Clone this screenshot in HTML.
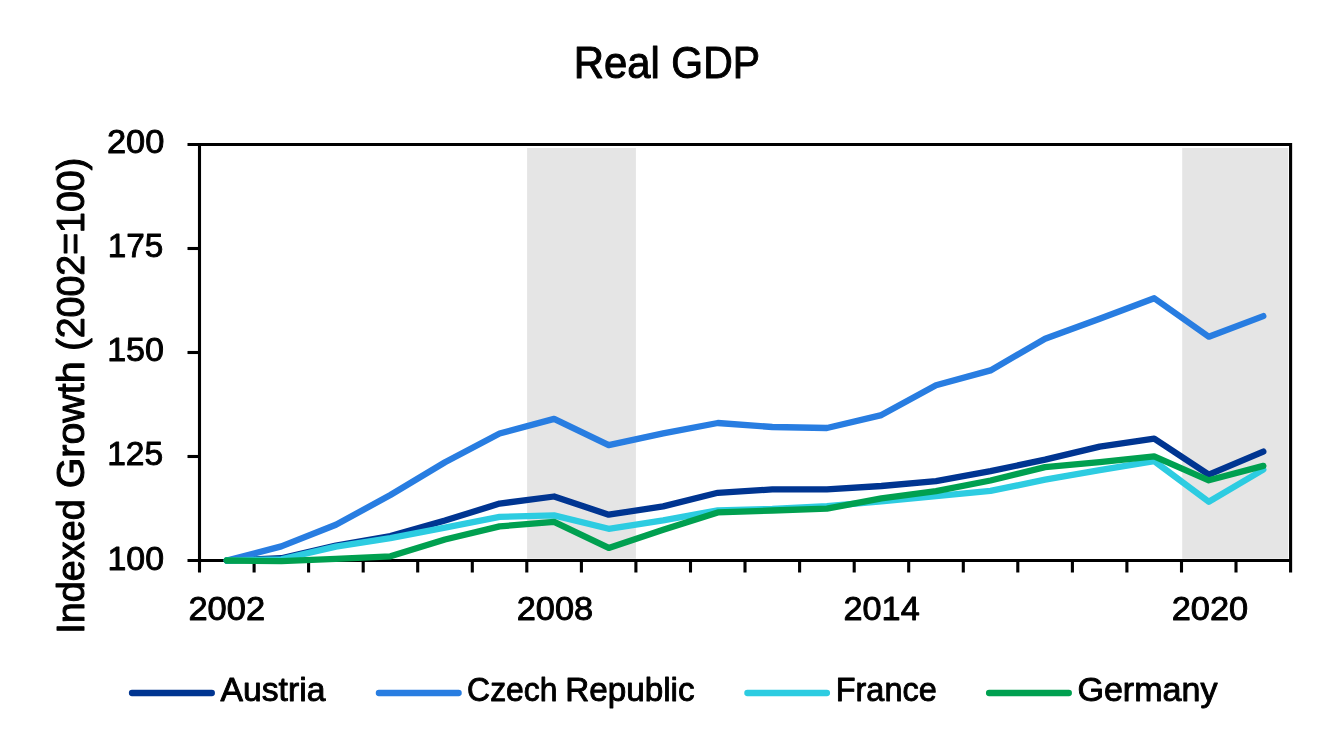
<!DOCTYPE html>
<html lang="en"><head><meta charset="utf-8"><title>Real GDP</title>
<style>html,body{margin:0;padding:0;background:#fff}body{width:1338px;height:742px;overflow:hidden}svg{display:block}text{font-family:"Liberation Sans",sans-serif;fill:#000}</style></head><body>
<svg width="1338" height="742" viewBox="0 0 1338 742">
<rect width="1338" height="742" fill="#fff"/>
<rect x="527.1" y="148.0" width="108.8" height="410.7" fill="#e5e5e5"/>
<rect x="1182.2" y="148.0" width="106.0" height="410.7" fill="#e5e5e5"/>
<g stroke="#000" stroke-width="3.1" fill="none" stroke-linecap="butt">
<path d="M187.5,144.5 H1290.6 V572.5"/>
<path d="M199.5,142.95 V572.5"/>
<path d="M187.5,560.5 H1290.6"/>
<path d="M187.5,248.5 H199.5"/>
<path d="M187.5,352.5 H199.5"/>
<path d="M187.5,456.5 H199.5"/>
<path d="M254.1,560.5 V572.5"/>
<path d="M308.6,560.5 V572.5"/>
<path d="M363.2,560.5 V572.5"/>
<path d="M417.7,560.5 V572.5"/>
<path d="M472.3,560.5 V572.5"/>
<path d="M526.8,560.5 V572.5"/>
<path d="M581.4,560.5 V572.5"/>
<path d="M635.9,560.5 V572.5"/>
<path d="M690.5,560.5 V572.5"/>
<path d="M745.0,560.5 V572.5"/>
<path d="M799.6,560.5 V572.5"/>
<path d="M854.2,560.5 V572.5"/>
<path d="M908.7,560.5 V572.5"/>
<path d="M963.3,560.5 V572.5"/>
<path d="M1017.8,560.5 V572.5"/>
<path d="M1072.4,560.5 V572.5"/>
<path d="M1126.9,560.5 V572.5"/>
<path d="M1181.5,560.5 V572.5"/>
<path d="M1236.0,560.5 V572.5"/>
</g>
<polyline points="226.8,560.5 281.3,558.2 335.9,545.5 390.4,536.0 445.0,520.5 499.6,503.6 554.1,496.5 608.7,514.7 663.2,506.4 717.8,492.8 772.3,489.4 826.9,489.4 881.4,486.0 936.0,481.1 990.5,471.2 1045.1,459.6 1099.7,446.6 1154.2,438.7 1208.8,474.7 1263.3,451.6" fill="none" stroke="#003591" stroke-width="6.3" stroke-linejoin="round" stroke-linecap="round"/>
<polyline points="226.8,560.5 281.3,546.4 335.9,524.8 390.4,495.0 445.0,462.3 499.6,433.5 554.1,418.9 608.7,445.1 663.2,433.4 717.8,423.0 772.3,427.0 826.9,428.0 881.4,415.1 936.0,385.2 990.5,370.4 1045.1,338.8 1099.7,318.8 1154.2,298.2 1208.8,336.7 1263.3,316.1" fill="none" stroke="#287de1" stroke-width="6.3" stroke-linejoin="round" stroke-linecap="round"/>
<polyline points="226.8,560.5 281.3,559.3 335.9,546.6 390.4,538.1 445.0,527.6 499.6,516.8 554.1,515.4 608.7,528.8 663.2,520.3 717.8,510.3 772.3,508.9 826.9,506.1 881.4,501.4 936.0,496.1 990.5,490.9 1045.1,479.7 1099.7,470.2 1154.2,461.1 1208.8,501.8 1263.3,469.6" fill="none" stroke="#2dcce1" stroke-width="6.3" stroke-linejoin="round" stroke-linecap="round"/>
<polyline points="226.8,560.5 281.3,561.1 335.9,558.8 390.4,556.3 445.0,539.5 499.6,526.4 554.1,521.9 608.7,547.9 663.2,529.8 717.8,512.4 772.3,510.5 826.9,508.7 881.4,498.4 936.0,491.2 990.5,480.5 1045.1,467.1 1099.7,462.1 1154.2,456.4 1208.8,480.3 1263.3,465.9" fill="none" stroke="#00a050" stroke-width="6.3" stroke-linejoin="round" stroke-linecap="round"/>
<text font-size="45" y="77.7" stroke="#000" stroke-width="1.0" stroke-linejoin="round"><tspan x="573.7" textLength="86.18" lengthAdjust="spacingAndGlyphs">Real</tspan> <tspan x="671.3" textLength="88.7" lengthAdjust="spacingAndGlyphs">GDP</tspan></text>
<text font-size="33.6" x="106.9" y="153.2" textLength="57.46" lengthAdjust="spacingAndGlyphs" stroke="#000" stroke-width="0.9" stroke-linejoin="round">200</text>
<text font-size="33.6" x="107.65" y="257.2" textLength="55.57" lengthAdjust="spacingAndGlyphs" stroke="#000" stroke-width="0.9" stroke-linejoin="round">175</text>
<text font-size="33.6" x="107.15" y="361.35" textLength="56.89" lengthAdjust="spacingAndGlyphs" stroke="#000" stroke-width="0.9" stroke-linejoin="round">150</text>
<text font-size="33.6" x="107.15" y="465.4" textLength="56.06" lengthAdjust="spacingAndGlyphs" stroke="#000" stroke-width="0.9" stroke-linejoin="round">125</text>
<text font-size="33.6" x="107.45" y="570.2" textLength="56.59" lengthAdjust="spacingAndGlyphs" stroke="#000" stroke-width="0.9" stroke-linejoin="round">100</text>
<text font-size="33.6" x="188.4" y="620.15" textLength="76.71" lengthAdjust="spacingAndGlyphs" stroke="#000" stroke-width="0.9" stroke-linejoin="round">2002</text>
<text font-size="33.6" x="516.65" y="620.15" textLength="76.54" lengthAdjust="spacingAndGlyphs" stroke="#000" stroke-width="0.9" stroke-linejoin="round">2008</text>
<text font-size="33.6" x="843.45" y="620.15" textLength="76.26" lengthAdjust="spacingAndGlyphs" stroke="#000" stroke-width="0.9" stroke-linejoin="round">2014</text>
<text font-size="33.6" x="1171.7" y="620.15" textLength="76.51" lengthAdjust="spacingAndGlyphs" stroke="#000" stroke-width="0.9" stroke-linejoin="round">2020</text>
<text font-size="33" x="220.6" y="700.95" textLength="104.78" lengthAdjust="spacingAndGlyphs" stroke="#000" stroke-width="0.9" stroke-linejoin="round">Austria</text>
<text font-size="33" y="700.95" stroke="#000" stroke-width="0.9" stroke-linejoin="round"><tspan x="467.1" textLength="90.46" lengthAdjust="spacingAndGlyphs">Czech</tspan> <tspan x="565.25" textLength="129.38" lengthAdjust="spacingAndGlyphs">Republic</tspan></text>
<text font-size="33" x="835.75" y="700.95" textLength="100.96" lengthAdjust="spacingAndGlyphs" stroke="#000" stroke-width="0.9" stroke-linejoin="round">France</text>
<text font-size="33" x="1077.45" y="700.95" textLength="140.08" lengthAdjust="spacingAndGlyphs" stroke="#000" stroke-width="0.9" stroke-linejoin="round">Germany</text>
<text font-size="38.3" transform="translate(84.3 0) rotate(-90)" stroke="#000" stroke-width="1.0" stroke-linejoin="round"><tspan x="-633.8" y="0" textLength="134.53" lengthAdjust="spacingAndGlyphs">Indexed</tspan> <tspan x="-488.35" y="0" textLength="127.03" lengthAdjust="spacingAndGlyphs">Growth</tspan> <tspan x="-350.75" y="0" textLength="192.95" lengthAdjust="spacingAndGlyphs">(2002=100)</tspan></text>
<line x1="132.0" y1="693" x2="211.8" y2="693" stroke="#003591" stroke-width="6.3" stroke-linecap="round"/>
<line x1="378.9" y1="693" x2="458.6" y2="693" stroke="#287de1" stroke-width="6.3" stroke-linecap="round"/>
<line x1="747.4" y1="693" x2="826.9" y2="693" stroke="#2dcce1" stroke-width="6.3" stroke-linecap="round"/>
<line x1="989.1" y1="693" x2="1068.8" y2="693" stroke="#00a050" stroke-width="6.3" stroke-linecap="round"/>
</svg></body></html>
